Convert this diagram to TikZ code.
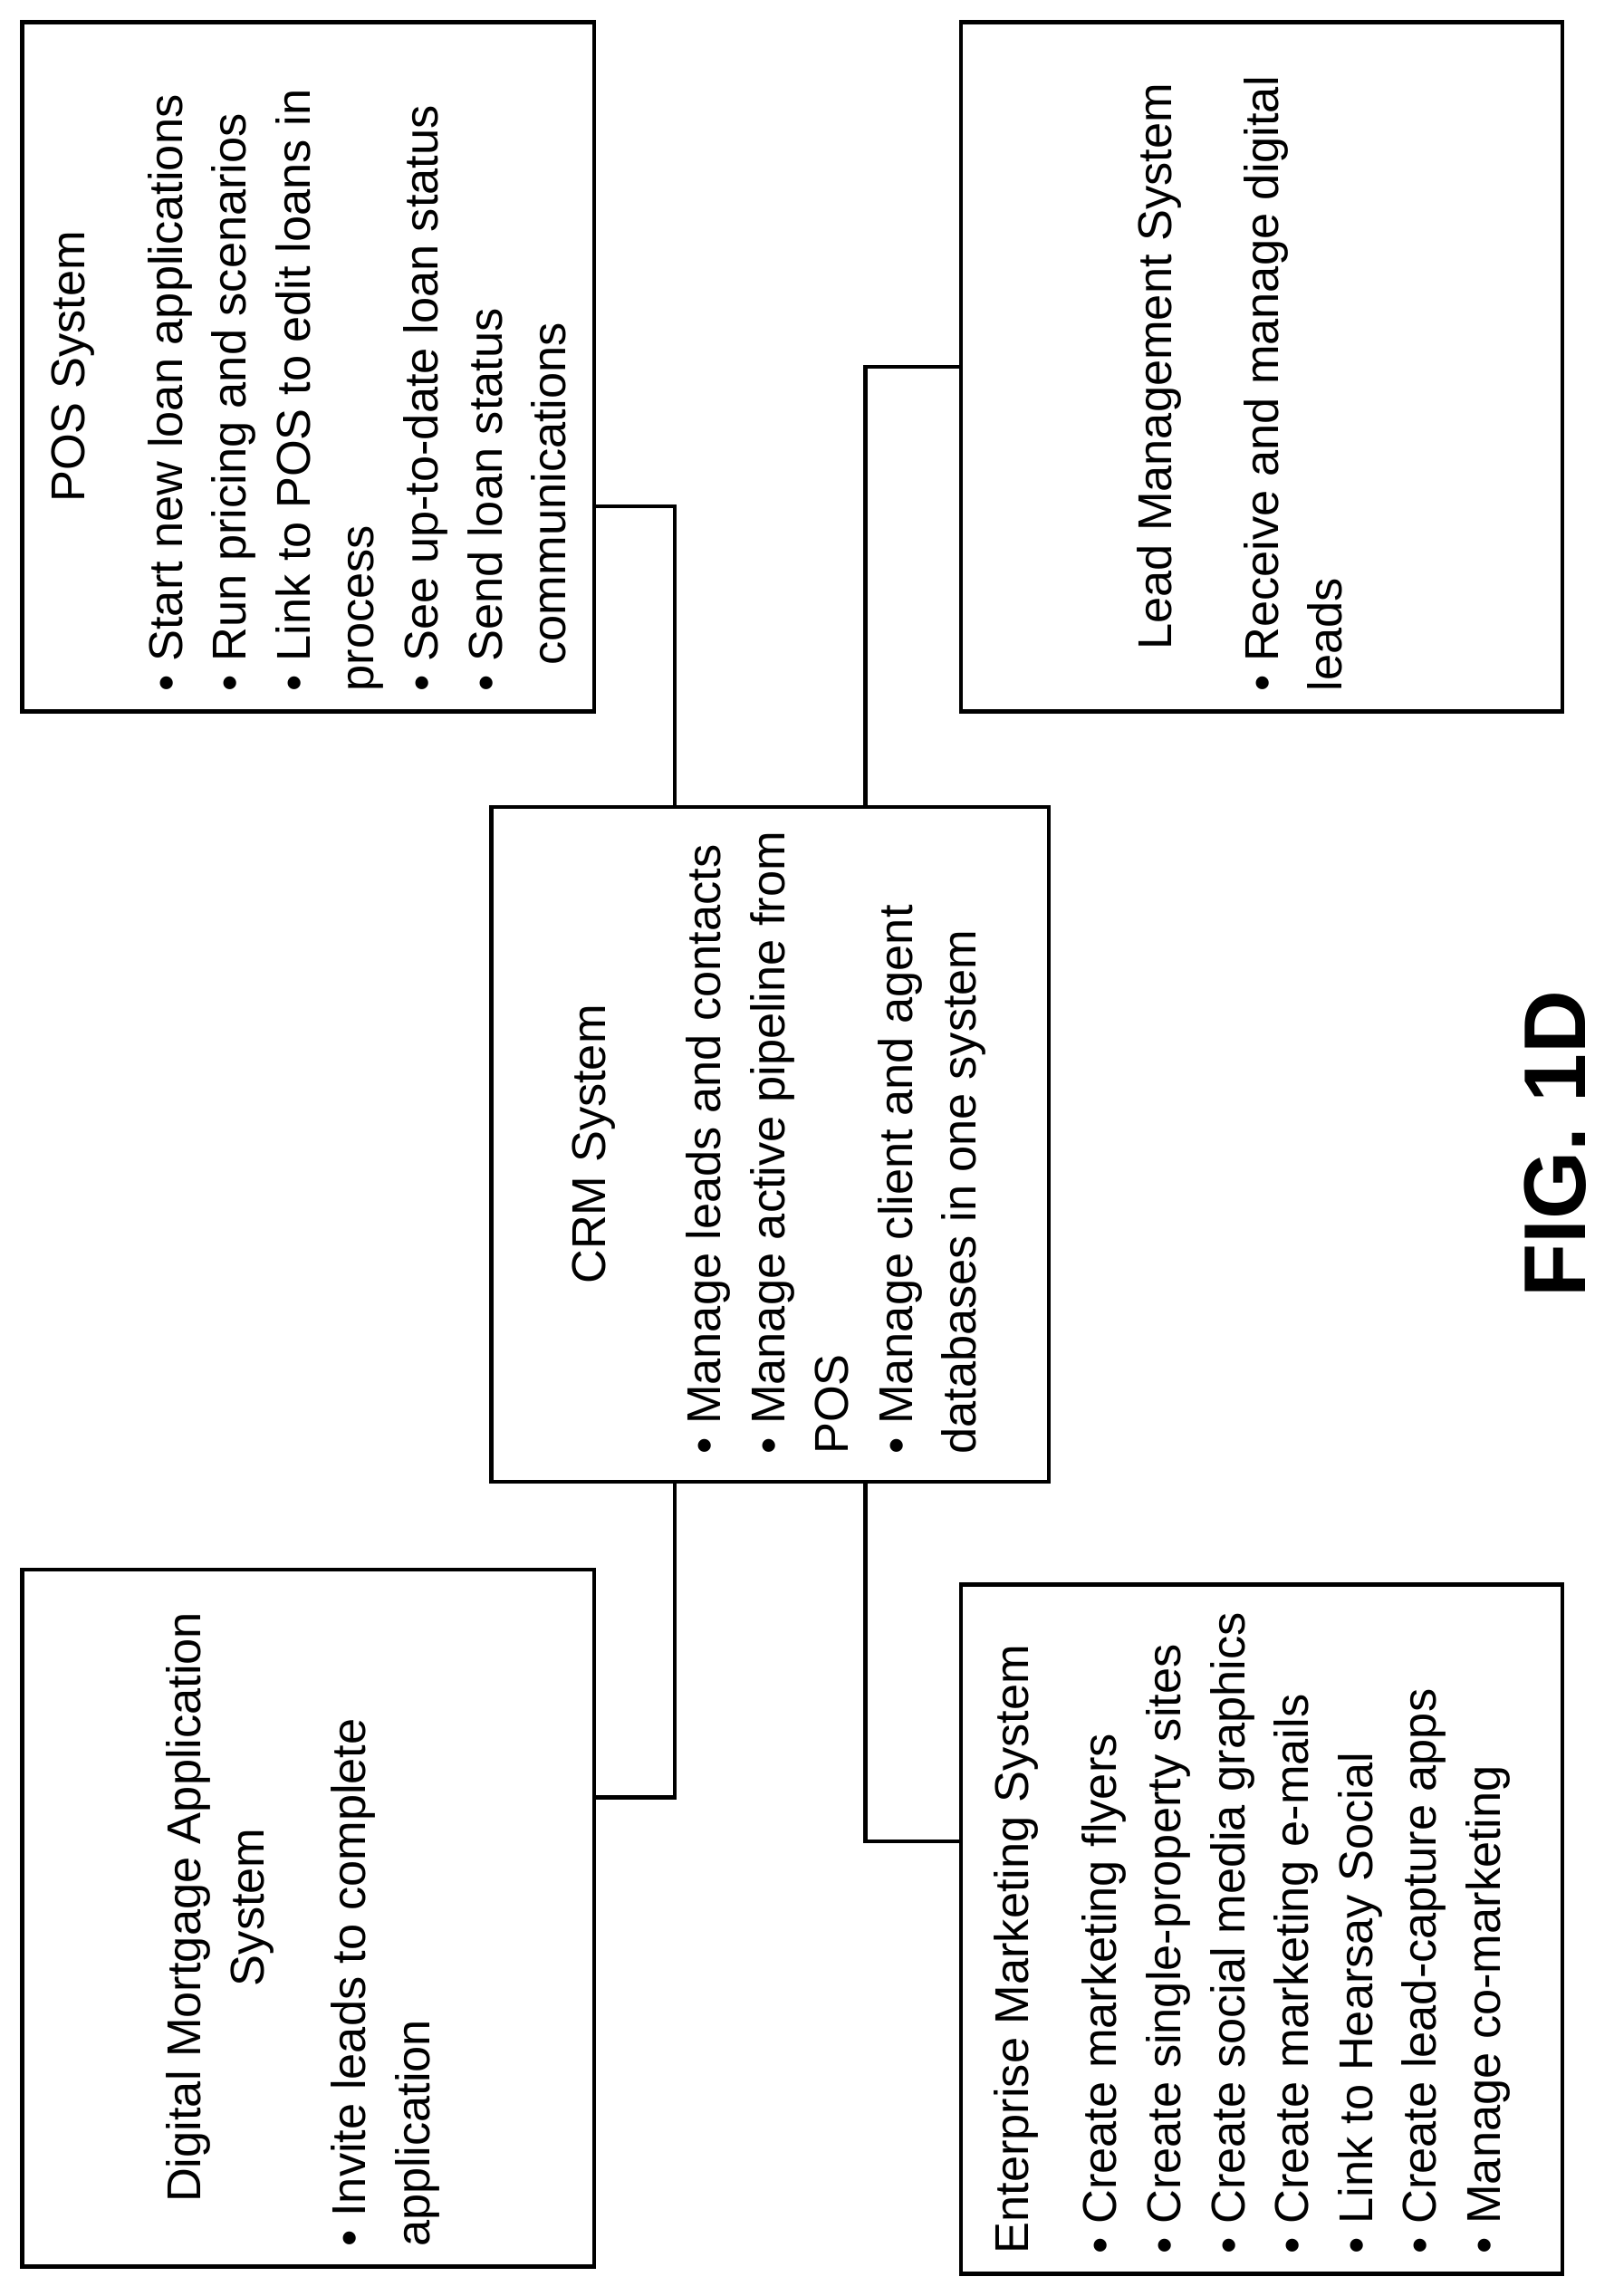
\documentclass[tikz,border=0pt]{standalone}
\usepackage{fontspec}
\setmainfont{Liberation Sans}
\usetikzlibrary{positioning}
\begin{document}
\begin{tikzpicture}[x=1cm,y=1cm,font=\fontsize{9.2}{12.4}\selectfont]
        % Setup the styles for the boxes and texts
        \tikzset{box style/.style={draw, line width=0.8pt, rotate=90,
                                   inner sep=0pt}}
        \tikzset{title style/.style={rotate=90, inner sep=0pt, align=center}}
        \tikzset{list style/.style={rotate=90, inner sep=0pt, align=left,
                                   anchor=north west}}
        \tikzset{link style/.style={line width=0.8pt}}
        \useasboundingbox (0,0) rectangle (11,-15.65);

        % Draw the boxes
        \node[box style, minimum width=4.7cm, minimum height=3.9cm]
            at (2.10,-2.50) (pos) {};
        \node[box style, minimum width=4.7cm, minimum height=4.1cm]
            at (8.60,-2.50) (lead) {};
        \node[box style, minimum width=4.6cm, minimum height=3.8cm]
            at (5.25,-7.80) (crm) {};
        \node[box style, minimum width=4.75cm, minimum height=3.9cm]
            at (2.10,-13.075) (dma) {};
        \node[box style, minimum width=4.7cm, minimum height=4.1cm]
            at (8.60,-13.15) (ems) {};

        % Texts
        \node[title style] at (0.50,-2.50) (posT) {POS System};
        \node[list style] at (1.00,-4.72) (posL) {%
            \textbullet\ Start new loan applications\\
            \textbullet\ Run pricing and scenarios\\
            \textbullet\ Link to POS to edit loans in\\
            process\\
            \textbullet\ See up-to-date loan status\\
            \textbullet\ Send loan status\\
            \ \ communications};
        \node[title style] at (7.90,-2.50) (leadT) {Lead Management System};
        \node[list style] at (8.47,-4.72) (leadL) {%
            \textbullet\ Receive and manage digital\\
            leads};
        \node[title style] at (4.05,-7.80) (crmT) {CRM System};
        \node[list style] at (4.67,-9.92) (crmL) {%
            \textbullet\ Manage leads and contacts\\
            \textbullet\ Manage active pipeline from\\
            POS\\
            \textbullet\ Manage client and agent\\
            databases in one system};
        \node[title style] at (1.50,-13.00) (dmaT) {Digital Mortgage Application\\System};
        \node[list style] at (2.25,-15.32) (dmaL) {%
            \textbullet\ Invite leads to complete\\
            application};
        \node[list style] at (6.77,-15.37) (emsT) {Enterprise Marketing System};
        \node[list style] at (7.37,-15.37) (emsL) {%
            \textbullet\ Create marketing flyers\\
            \textbullet\ Create single-property sites\\
            \textbullet\ Create social media graphics\\
            \textbullet\ Create marketing e-mails\\
            \textbullet\ Link to Hearsay Social\\
            \textbullet\ Create lead-capture apps\\
            \textbullet\ Manage co-marketing};
        \node[rotate=90, font=\fontsize{17}{20}\selectfont\bfseries]
            at (10.60,-7.80) (fig) {FIG. 1D};

        % Connect the boxes
        \draw[link style] (crm.east -| 4.60,0) |- (pos.south |- 0,-3.45);
        \draw[link style] (crm.east -| 5.90,0) |- (lead.north |- 0,-2.50);
        \draw[link style] (crm.west -| 4.60,0) |- (dma.south |- 0,-12.25);
        \draw[link style] (crm.west -| 5.90,0) |- (ems.north |- 0,-12.55);
\end{tikzpicture}
\end{document}
